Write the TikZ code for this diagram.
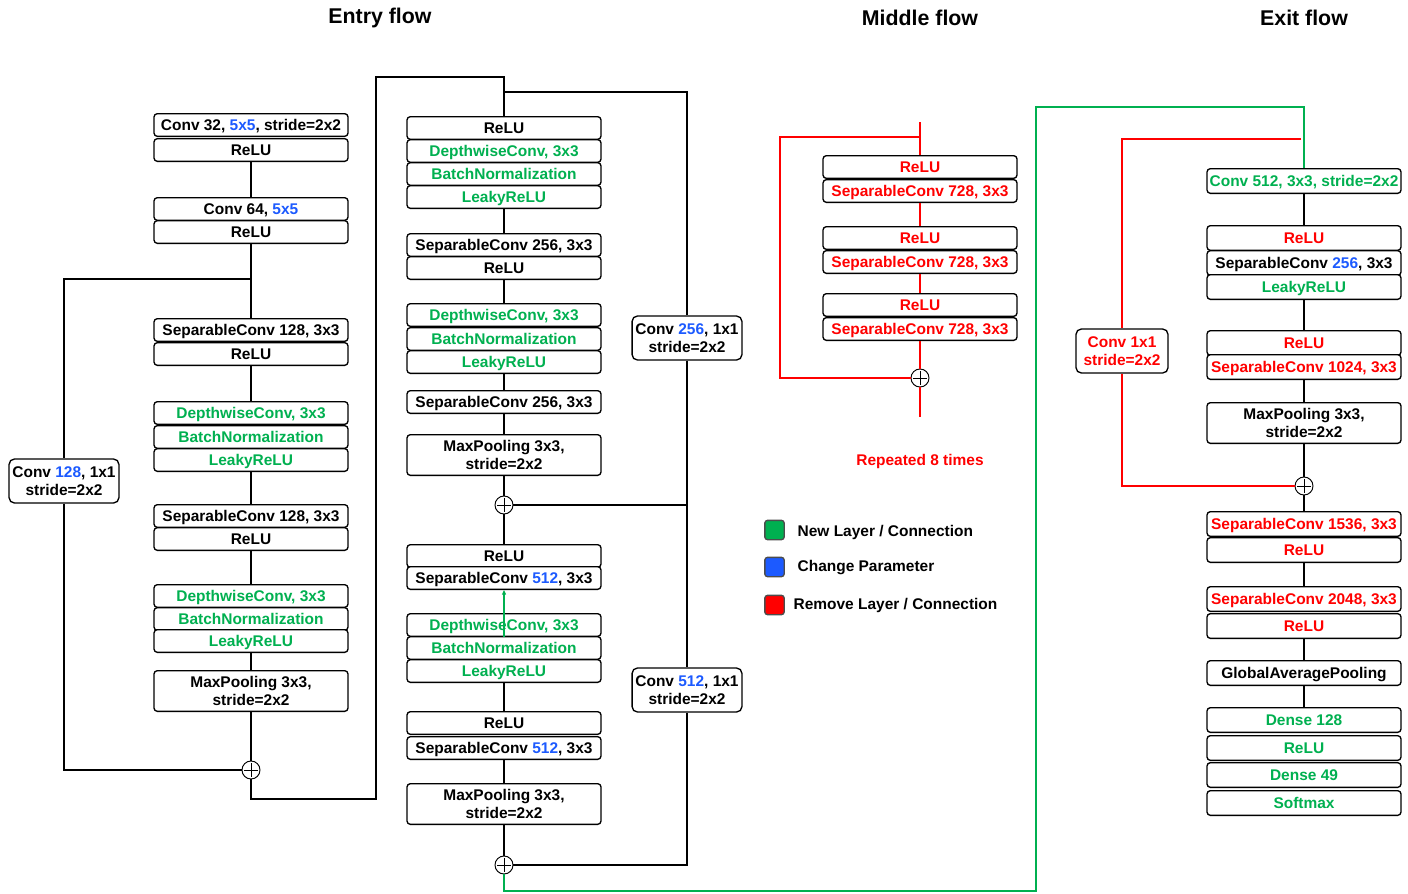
\documentclass[tikz,border=0pt]{standalone}
\usepackage{fontspec}
\setmainfont{Liberation Sans}
\usetikzlibrary{arrows.meta}

\definecolor{cgreen}{RGB}{0,176,80}
\definecolor{cblue}{RGB}{28,90,255}
\definecolor{cred}{RGB}{255,0,0}
\newcommand{\bl}[1]{\textcolor{cblue}{#1}}

\tikzset{every picture/.style={line width=1pt}}
\tikzset{
  layer/.style={draw, rounded corners=2.5pt, fill=white, minimum width=145.5pt, minimum height=17pt, inner sep=0pt, text height=8.4pt, text depth=0pt, font=\bfseries\fontsize{11.6}{13}\selectfont},
  xlayer/.style={layer, minimum height=18.5pt},
  tallayer/.style={draw, rounded corners=2.5pt, fill=white, minimum width=145.5pt, minimum height=30.5pt, inner sep=0pt, align=center, font=\bfseries\fontsize{11.6}{13.5}\selectfont},
  skipbox/.style={draw, rounded corners=4pt, fill=white, minimum height=33pt, inner sep=2.5pt, align=center, font=\bfseries\fontsize{11.6}{13.5}\selectfont},
  addnode/.style={circle, draw, fill=white, minimum size=13.5pt, inner sep=0pt, line width=0.7pt,
    path picture={\draw[line width=0.6pt] ([yshift=-1.5pt]path picture bounding box.north) -- ([yshift=1.5pt]path picture bounding box.south);
                  \draw[line width=0.6pt] ([xshift=1.5pt]path picture bounding box.west) -- ([xshift=-1.5pt]path picture bounding box.east);}},
  legsq/.style={draw=black!70, rounded corners=2pt, minimum size=14.5pt, inner sep=0pt},
  title/.style={font=\bfseries\fontsize{16}{19}\selectfont},
  legtext/.style={anchor=west, inner sep=0pt, text height=8.4pt, text depth=0pt, font=\bfseries\fontsize{11.6}{13}\selectfont}
}

\begin{document}
\begin{tikzpicture}[x=0.75pt,y=0.75pt,yscale=-1,xscale=1]
\useasboundingbox (0,0) rectangle (1408,893);

% Titles
\node[title] (tentry) at (380,18) {Entry flow};
\node[title] (tmiddle) at (920,18) {Middle flow};
\node[title] (texit) at (1304,18) {Exit flow};

%Entry flow, first column
\node[layer] (e1) at (251,125) {Conv 32, \bl{5x5}, stride=2x2};
\node[layer] (e2) at (251,150) {ReLU};
\node[layer] (e3) at (251,209) {Conv 64, \bl{5x5}};
\node[layer] (e4) at (251,232) {ReLU};
\node[layer] (e5) at (251,330) {SeparableConv 128, 3x3};
\node[layer] (e6) at (251,354) {ReLU};
\node[layer, text=cgreen] (e7) at (251,413) {DepthwiseConv, 3x3};
\node[layer, text=cgreen] (e8) at (251,437) {BatchNormalization};
\node[layer, text=cgreen] (e9) at (251,460) {LeakyReLU};
\node[layer] (e10) at (251,516) {SeparableConv 128, 3x3};
\node[layer] (e11) at (251,539) {ReLU};
\node[layer, text=cgreen] (e12) at (251,596) {DepthwiseConv, 3x3};
\node[layer, text=cgreen] (e13) at (251,619) {BatchNormalization};
\node[layer, text=cgreen] (e14) at (251,641) {LeakyReLU};
\node[tallayer] (e15) at (251,691) {MaxPooling 3x3,\\stride=2x2};
\node[addnode] (ep1) at (251,770) {};
\node[skipbox] (es1) at (64,481) {Conv \bl{128}, 1x1\\stride=2x2};

%Straight Lines
\coordinate (eb1) at (251,279);
\coordinate (ea) at (376,799);
\coordinate (eb) at (376,77);
\draw (e2) -- (e3);
\draw (e4) -- (e5);
\draw (e6) -- (e7);
\draw (e9) -- (e10);
\draw (e11) -- (e12);
\draw (e14) -- (e15);
\draw (e15) -- (ep1);
\draw (eb1) -| (es1);
\draw (es1) |- (ep1);

%Entry flow, second column
\node[layer] (f1) at (504,128) {ReLU};
\node[layer, text=cgreen] (f2) at (504,151) {DepthwiseConv, 3x3};
\node[layer, text=cgreen] (f3) at (504,174) {BatchNormalization};
\node[layer, text=cgreen] (f4) at (504,197) {LeakyReLU};
\node[layer] (f5) at (504,245) {SeparableConv 256, 3x3};
\node[layer] (f6) at (504,268) {ReLU};
\node[layer, text=cgreen] (f7) at (504,315) {DepthwiseConv, 3x3};
\node[layer, text=cgreen] (f8) at (504,339) {BatchNormalization};
\node[layer, text=cgreen] (f9) at (504,362) {LeakyReLU};
\node[layer] (f10) at (504,402) {SeparableConv 256, 3x3};
\node[tallayer] (f11) at (504,455) {MaxPooling 3x3,\\stride=2x2};
\node[addnode] (fp1) at (504,505) {};
\node[layer] (f12) at (504,556) {ReLU};
\node[layer] (f13) at (504,578) {SeparableConv \bl{512}, 3x3};
\node[layer, text=cgreen] (f14) at (504,625) {DepthwiseConv, 3x3};
\node[layer, text=cgreen] (f15) at (504,648) {BatchNormalization};
\node[layer, text=cgreen] (f16) at (504,671) {LeakyReLU};
\node[layer] (f17) at (504,723) {ReLU};
\node[layer] (f18) at (504,748) {SeparableConv \bl{512}, 3x3};
\node[tallayer] (f19) at (504,804) {MaxPooling 3x3,\\stride=2x2};
\node[addnode] (fp2) at (504,865) {};
\node[skipbox] (fs1) at (687,338) {Conv \bl{256}, 1x1\\stride=2x2};
\node[skipbox] (fs2) at (687,690) {Conv \bl{512}, 1x1\\stride=2x2};

%Straight Lines
\coordinate (fb1) at (504,92);
\draw (ep1) |- (ea) -- (eb) -| (f1);
\draw (fb1) -| (fs1);
\draw (fs1) |- (fp1);
\draw (fs1) -- (fs2);
\draw (fs2) |- (fp2);
\draw (f4) -- (f5);
\draw (f6) -- (f7);
\draw (f9) -- (f10);
\draw (f10) -- (f11);
\draw (f11) -- (fp1);
\draw (fp1) -- (f12);
\draw (f16) -- (f17);
\draw (f18) -- (f19);
\draw (f19) -- (fp2);
\draw[cgreen, -{Triangle[length=3.5pt,width=3pt]}] (f14.south) -- (f13.south);

%Middle flow
\node[layer, text=cred] (m1) at (920,167) {ReLU};
\node[layer, text=cred] (m2) at (920,191) {SeparableConv 728, 3x3};
\node[layer, text=cred] (m3) at (920,238) {ReLU};
\node[layer, text=cred] (m4) at (920,262) {SeparableConv 728, 3x3};
\node[layer, text=cred] (m5) at (920,305) {ReLU};
\node[layer, text=cred] (m6) at (920,329) {SeparableConv 728, 3x3};
\node[addnode] (mp) at (920,378) {};
\node[text=cred, font=\bfseries\fontsize{11.6}{13}\selectfont] (mrep) at (920,461) {Repeated 8 times};

%Straight Lines
\coordinate (mt) at (920,122);
\coordinate (mb) at (920,137);
\coordinate (ml) at (780,137);
\coordinate (me) at (920,417);
\draw[cred] (mt) -- (m1);
\draw[cred] (mb) -- (ml) |- (mp);
\draw[cred] (m2) -- (m3);
\draw[cred] (m4) -- (m5);
\draw[cred] (m6) -- (mp);
\draw[cred] (mp) -- (me);

%Legend
\node[legsq, fill=cgreen] (lg) at (774.5,530) {};
\node[legsq, fill=cblue] (lb) at (774.5,567) {};
\node[legsq, fill=cred] (lr) at (774.5,605) {};
\node[legtext] (tg) at (797,531) {New Layer / Connection};
\node[legtext] (tb) at (797,566) {Change Parameter};
\node[legtext] (tr) at (793,604) {Remove Layer / Connection};

%Exit flow
\node[xlayer, text=cgreen] (x1) at (1304,181) {Conv 512, 3x3, stride=2x2};
\node[xlayer, text=cred] (x2) at (1304,238) {ReLU};
\node[xlayer] (x3) at (1304,263) {SeparableConv \bl{256}, 3x3};
\node[xlayer, text=cgreen] (x4) at (1304,287) {LeakyReLU};
\node[xlayer, text=cred] (x5) at (1304,343) {ReLU};
\node[xlayer, text=cred] (x6) at (1304,367) {SeparableConv 1024, 3x3};
\node[tallayer] (x7) at (1304,423) {MaxPooling 3x3,\\stride=2x2};
\node[addnode] (xp) at (1304,486) {};
\node[xlayer, text=cred] (x8) at (1304,524) {SeparableConv 1536, 3x3};
\node[xlayer, text=cred] (x9) at (1304,550) {ReLU};
\node[xlayer, text=cred] (x10) at (1304,599) {SeparableConv 2048, 3x3};
\node[xlayer, text=cred] (x11) at (1304,626) {ReLU};
\node[xlayer] (x12) at (1304,673) {GlobalAveragePooling};
\node[xlayer, text=cgreen] (x13) at (1304,720) {Dense 128};
\node[xlayer, text=cgreen] (x14) at (1304,748) {ReLU};
\node[xlayer, text=cgreen] (x15) at (1304,775) {Dense 49};
\node[xlayer, text=cgreen] (x16) at (1304,803) {Softmax};
\node[skipbox, text=cred, minimum width=69pt] (xs) at (1122,351) {Conv 1x1\\stride=2x2};

%Straight Lines
\coordinate (ga) at (1036,891);
\coordinate (gb) at (1036,107);
\coordinate (xra) at (1301,139);
\coordinate (xrb) at (1122,139);
\draw[cgreen] (fp2) |- (ga) -- (gb) -| (x1);
\draw[cred] (xra) -- (xrb) -- (xs);
\draw[cred] (xs) |- (xp);
\draw (x1) -- (x2);
\draw (x4) -- (x5);
\draw (x6) -- (x7);
\draw (x7) -- (xp);
\draw (xp) -- (x8);
\draw (x9) -- (x10);
\draw (x11) -- (x12);
\draw (x12) -- (x13);

\end{tikzpicture}
\end{document}
